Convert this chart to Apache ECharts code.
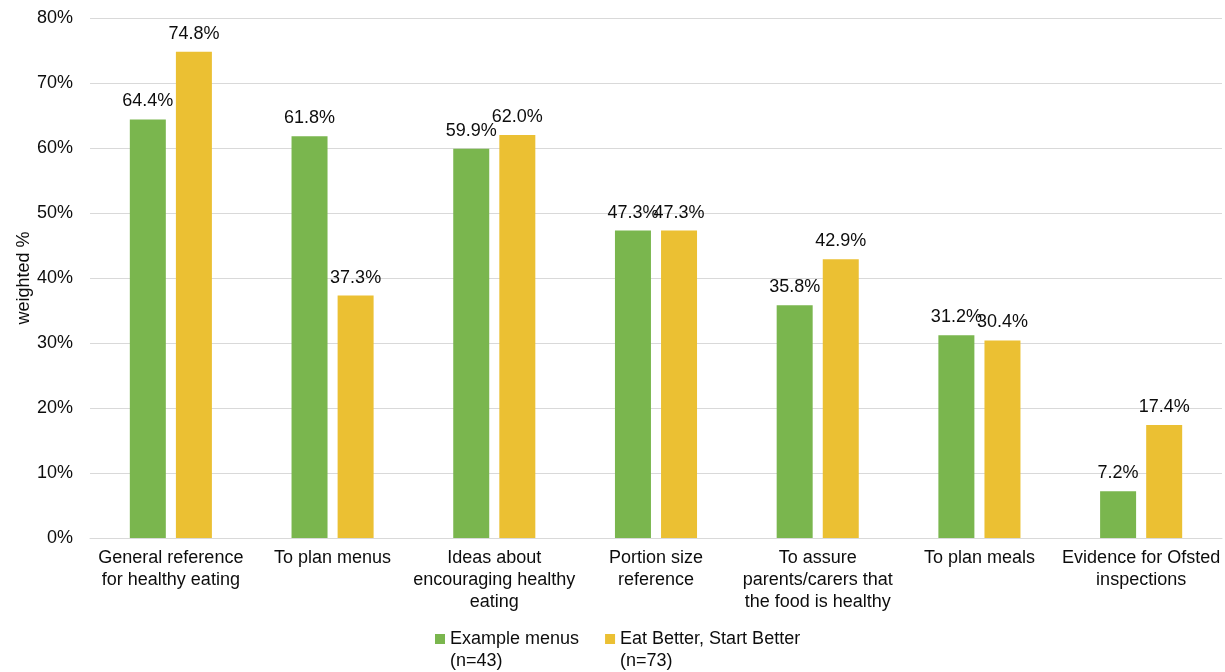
<!DOCTYPE html>
<html>
<head>
<meta charset="utf-8">
<script src="https://cdn.jsdelivr.net/npm/echarts@6/dist/echarts.min.js"></script>
<style>
  html, body { margin: 0; padding: 0; background: #ffffff; }
  #chart { width: 1225px; height: 672px; }
</style>
</head>
<body>
<div id="chart"></div>
<script>
// Uses of resources, weighted %
const categories = [
  'General reference\nfor healthy eating',
  'To plan menus',
  'Ideas about\nencouraging healthy\neating',
  'Portion size\nreference',
  'To assure\nparents/carers that\nthe food is healthy',
  'To plan meals',
  'Evidence for Ofsted\ninspections'
];
const exampleMenus = [64.4, 61.8, 59.9, 47.3, 35.8, 31.2, 7.2];
const eatBetter = [74.8, 37.3, 62.0, 47.3, 42.9, 30.4, 17.4];
const seriesNames = ['Example menus\n(n=43)', 'Eat Better, Start Better\n(n=73)'];
const yTicks = [0, 10, 20, 30, 40, 50, 60, 70, 80];

const FONT = '"Liberation Sans", Arial, sans-serif';
const TEXT = '#0d0d0d';

const chart = echarts.init(document.getElementById('chart'));

const valueLabel = {
  show: true,
  position: 'top',
  distance: 9,
  fontFamily: FONT,
  fontSize: 18,
  color: TEXT,
  formatter: p => p.value.toFixed(1) + '%'
};

chart.setOption({
  animation: false,
  color: ['#7ab64e', '#ebc033'],
  grid: { left: 90, right: 3, top: 18, bottom: 134, containLabel: false },
  legend: {
    left: 430,
    top: 601,
    itemWidth: 10,
    itemHeight: 10,
    itemGap: 26,
    icon: 'rect',
    // leading blank line keeps the marker level with the first line of text
    formatter: name => '\n' + name,
    textStyle: {
      fontFamily: FONT,
      fontSize: 18,
      color: TEXT,
      lineHeight: 22
    },
    data: seriesNames
  },
  xAxis: {
    type: 'category',
    data: categories,
    axisTick: { show: false },
    axisLine: { lineStyle: { color: '#d9d9d9', width: 1 } },
    axisLabel: {
      interval: 0,
      margin: 9,
      fontFamily: FONT,
      fontSize: 18,
      color: TEXT,
      lineHeight: 22
    }
  },
  yAxis: {
    type: 'value',
    min: yTicks[0],
    max: yTicks[yTicks.length - 1],
    interval: 10,
    name: 'weighted %',
    nameLocation: 'middle',
    nameRotate: 90,
    nameGap: 57,
    nameMoveOverlap: false,
    nameTextStyle: { fontFamily: FONT, fontSize: 18, color: TEXT },
    axisLine: { show: false },
    axisTick: { show: false },
    splitLine: { lineStyle: { color: '#d9d9d9', width: 1 } },
    axisLabel: {
      margin: 17,
      fontFamily: FONT,
      fontSize: 18,
      color: TEXT,
      formatter: v => v + '%'
    }
  },
  series: [
    {
      name: seriesNames[0],
      type: 'bar',
      data: exampleMenus,
      barWidth: 36,
      barGap: '28%',
      label: valueLabel
    },
    {
      name: seriesNames[1],
      type: 'bar',
      data: eatBetter,
      barWidth: 36,
      label: valueLabel
    }
  ]
});
</script>
</body>
</html>
